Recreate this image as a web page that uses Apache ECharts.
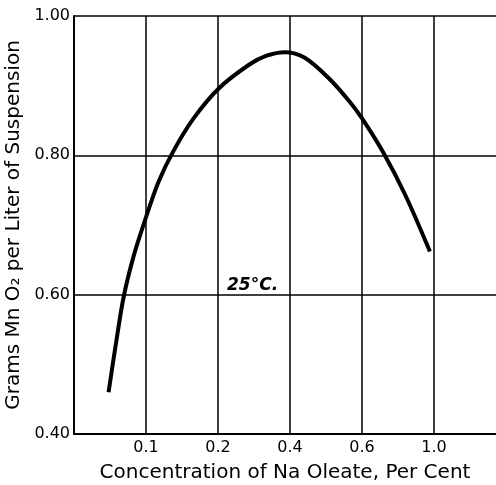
<!DOCTYPE html>
<html>
<head>
<meta charset="utf-8">
<script src="https://cdn.jsdelivr.net/npm/echarts@6/dist/echarts.min.js"></script>
<style>html,body{margin:0;padding:0;background:#fff;overflow:hidden}#c{width:496px;height:485px}</style>
</head>
<body>
<div id="c"></div>
<script>
// Concentration tick values (placed at equal spacing on the original chart)
const xTickValues = [0, 0.1, 0.2, 0.4, 0.6, 1.0];
const xTickLabels = ['', '0.1', '0.2', '0.4', '0.6', '1.0'];
const yTickValues = [0.40, 0.60, 0.80, 1.00];

// Curve at 25°C
const concentration = [0.048, 0.059, 0.069, 0.083, 0.099, 0.117, 0.138, 0.166, 0.202, 0.286, 0.335, 0.386, 0.441, 0.507, 0.564, 0.600, 0.718, 0.842, 0.977];
const gramsMnO2     = [0.460, 0.535, 0.597, 0.656, 0.708, 0.761, 0.806, 0.853, 0.896, 0.930, 0.943, 0.948, 0.940, 0.911, 0.878, 0.853, 0.804, 0.742, 0.662];

const curveLabel = '25°C.';

// piecewise-linear scale: concentration -> equal-spaced tick index
function toPos(v) {
  for (let i = 0; i < xTickValues.length - 1; i++) {
    const a = xTickValues[i], b = xTickValues[i + 1];
    if (v <= b || i === xTickValues.length - 2) return i + (v - a) / (b - a);
  }
}

const chart = echarts.init(document.getElementById('c'));
const font = '"DejaVu Sans", sans-serif';
chart.setOption({
  animation: false,
  backgroundColor: '#fff',
  grid: { left: 74, right: 0, top: 16, bottom: 51, containLabel: false, outerBoundsMode: 'none' },
  xAxis: {
    type: 'value', min: 0, max: 5.86, interval: 1,
    axisLine: { show: true, lineStyle: { color: '#000', width: 2 } },
    axisTick: { show: false },
    splitLine: { show: false },
    axisLabel: {
      color: '#000', fontFamily: font, fontSize: 16, margin: 6,
      formatter: v => (Math.abs(v - Math.round(v)) < 1e-6 && xTickLabels[Math.round(v)] !== undefined) ? xTickLabels[Math.round(v)] : ''
    },
    name: 'Concentration of Na Oleate, Per Cent',
    nameLocation: 'middle', nameGap: 29,
    nameTextStyle: { color: '#000', fontFamily: font, fontSize: 20 }
  },
  yAxis: {
    type: 'value', min: yTickValues[0], max: yTickValues[yTickValues.length - 1], interval: 0.2,
    axisLine: { show: true, lineStyle: { color: '#000', width: 2 } },
    axisTick: { show: false },
    splitLine: { show: true, lineStyle: { color: '#000', width: 1.5 } },
    axisLabel: { color: '#000', fontFamily: font, fontSize: 16, margin: 4, formatter: v => v.toFixed(2) },
    name: 'Grams Mn O₂ per Liter of Suspension',
    nameLocation: 'middle', nameGap: 40,
    nameTextStyle: { color: '#000', fontFamily: font, fontSize: 20 }
  },
  graphic: [{
    type: 'text', left: 227, top: 277,
    style: { text: curveLabel, font: 'italic bold 17px "DejaVu Sans", sans-serif', fill: '#000' }
  }],
  series: [{
    type: 'line', smooth: 0.3, showSymbol: false, symbol: 'none',
    lineStyle: { color: '#000', width: 4, cap: 'butt' },
    data: concentration.map((c, i) => [toPos(c), gramsMnO2[i]]),
    markLine: {
      silent: true, symbol: 'none', animation: false,
      label: { show: false },
      lineStyle: { color: '#000', width: 1.5, type: 'solid' },
      data: xTickValues.slice(1).map((v, i) => ({ xAxis: i + 1 }))
    }
  }]
});
</script>
</body>
</html>
